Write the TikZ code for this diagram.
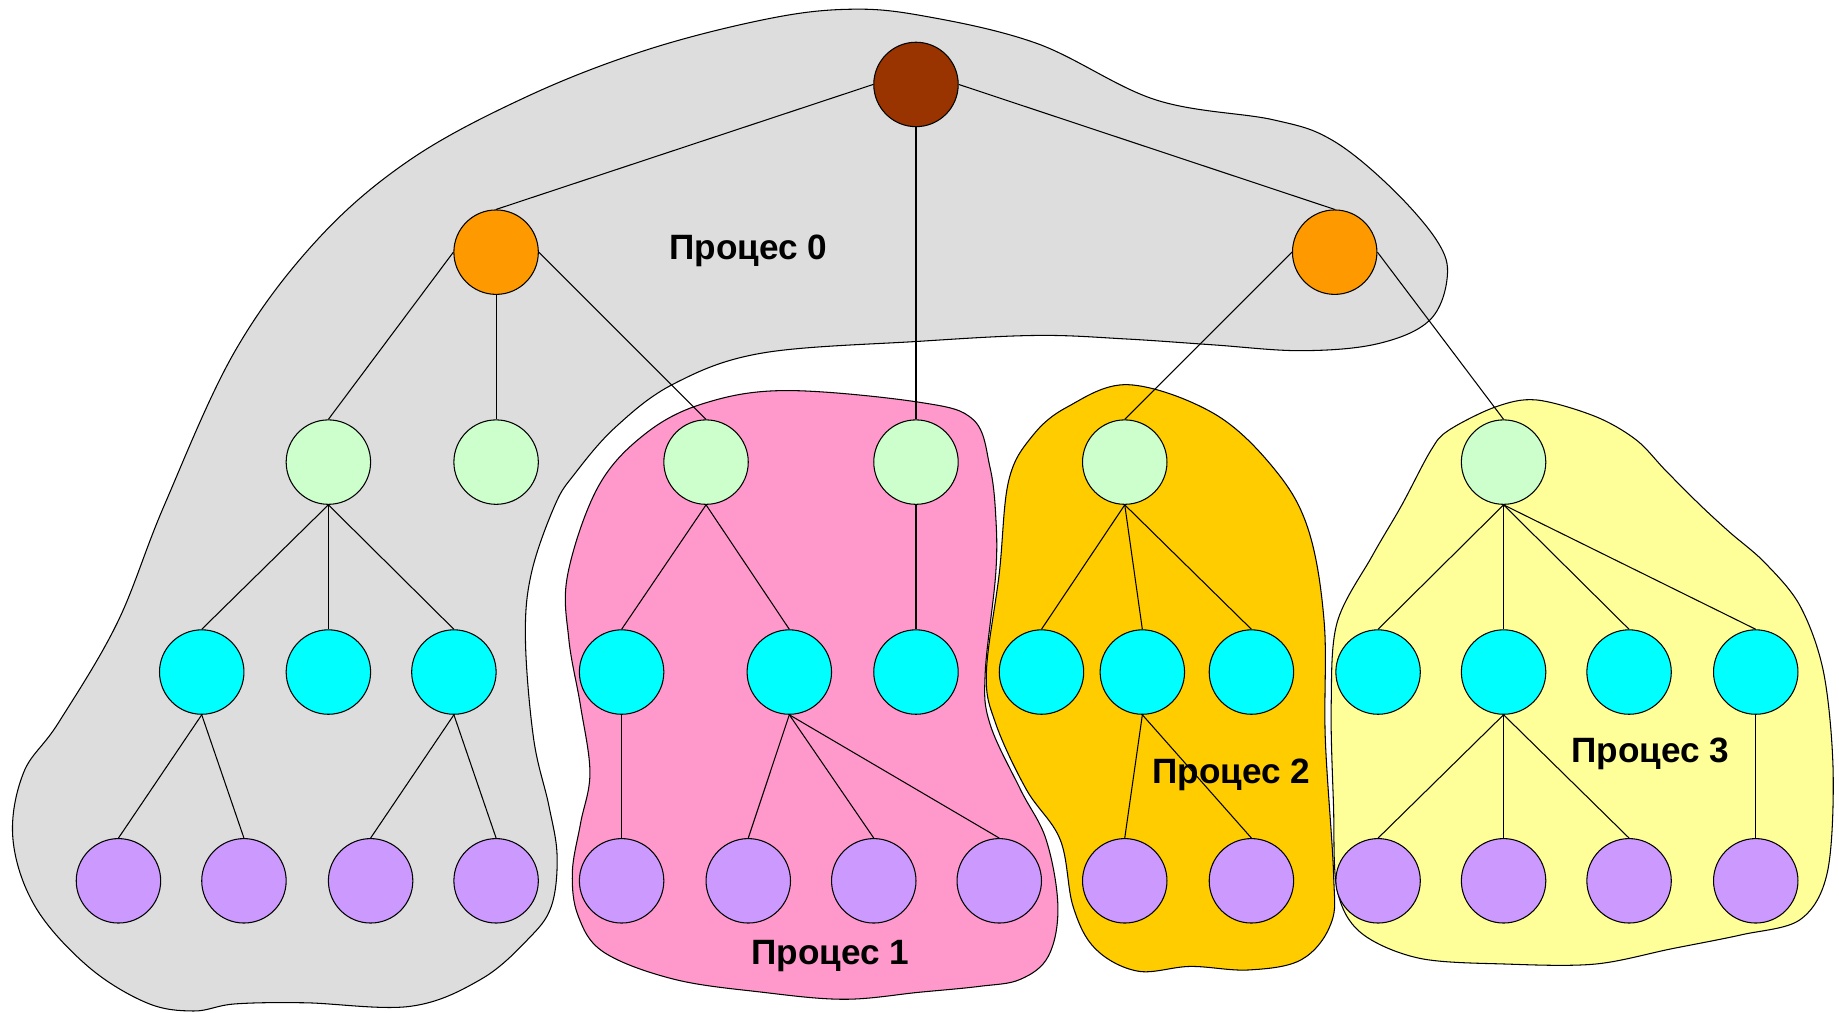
\documentclass[tikz,border=0pt]{standalone}
\usepackage{fontspec}
\setmainfont{Liberation Sans}
\definecolor{zonegray}{HTML}{DDDDDD}
\definecolor{zonepink}{HTML}{FF99CC}
\definecolor{zonegold}{HTML}{FFCC00}
\definecolor{zoneyellow}{HTML}{FFFF99}
\definecolor{rootbrown}{HTML}{993300}
\definecolor{lvlorange}{HTML}{FF9900}
\definecolor{lvlgreen}{HTML}{CCFFCC}
\definecolor{lvlcyan}{HTML}{00FFFF}
\definecolor{lvlviolet}{HTML}{CC99FF}
\begin{document}
\begin{tikzpicture}[x=0.5pt,y=-0.5pt,
  vertex/.style={circle, draw=black, line width=0.45pt, minimum size=36pt, inner sep=0pt},
  blob/.style={draw=black, line width=0.45pt},
  link/.style={draw=black, line width=0.45pt},
  proc/.style={font=\bfseries\fontsize{15}{17}\selectfont}]
\useasboundingbox (0,0) rectangle (1568,863);

% process regions
\path[blob, fill=zonegray] plot[smooth cycle, tension=0.6] coordinates {
  (720,8) (784,13) (884,37) (985,85) (1085,102) (1135,119) (1185,159)
  (1225,205) (1234,236) (1219,273) (1175,293) (1110,299) (1034,294)
  (960,289) (884,286) (784,291) (650,301) (575,327) (525,364) (490,404)
  (473,431) (453,489) (448,545) (455,630) (468,687) (475,730) (470,773)
  (450,801) (410,835) (350,858) (260,855) (200,856) (165,862) (125,855)
  (75,824) (30,773) (11,715) (20,659) (50,616) (100,531) (140,431)
  (200,300) (270,205) (350,136) (450,82) (550,43) (650,17)};
\path[blob, fill=zonepink] plot[smooth cycle, tension=0.6] coordinates {
  (510,415) (550,370) (600,344) (670,333) (784,343) (830,358) (844,398)
  (849,440) (849,489) (840,574) (844,617) (870,673) (892,716) (902,773)
  (894,815) (870,835) (835,841) (784,846) (720,852) (650,846) (575,835)
  (515,812) (493,781) (488,744) (495,702) (503,659) (495,602) (485,545)
  (484,490)};
\path[blob, fill=zonegold] plot[smooth cycle, tension=0.6] coordinates {
  (962,328) (1034,352) (1085,398) (1115,450)
  (1129,530) (1130,630) (1137,744) (1135,787) (1110,818) (1065,827) (1015,824)
  (970,828) (934,809) (915,773) (904,716) (875,673) (849,617) (841,574)
  (852,489) (860,410) (880,372) (910,347)};
\path[blob, fill=zoneyellow] plot[smooth cycle, tension=0.55] coordinates {
  (1275,347) (1310,341) (1360,355) (1395,375) (1420,401) (1450,431)
  (1475,454) (1505,480) (1535,517) (1555,574) (1563,659) (1558,744)
  (1535,784) (1485,797) (1425,809) (1360,822) (1285,822) (1210,817)
  (1160,795) (1140,758) (1137,687) (1135,602) (1140,531) (1170,474)
  (1195,431) (1220,384) (1235,367)};

% tree vertices
\node[vertex, fill=rootbrown] (r) at (781,72) {};
\node[vertex, fill=lvlorange] (o1) at (423,215) {};
\node[vertex, fill=lvlorange] (o2) at (1138,215) {};
\foreach \n/\x in {g1/280, g2/423, g3/602, g4/781, g5/959, g6/1282}
  \node[vertex, fill=lvlgreen] (\n) at (\x,394) {};
\foreach \n/\x in {c1/172, c2/280, c3/387, c4/530, c5/673, c6/781, c7/888,
                   c8/974, c9/1067, c10/1175, c11/1282, c12/1389, c13/1497}
  \node[vertex, fill=lvlcyan] (\n) at (\x,573) {};
\foreach \n/\x in {p1/101, p2/208, p3/316, p4/423, p5/530, p6/638, p7/745,
                   p8/852, p9/959, p10/1067, p11/1175, p12/1282, p13/1389, p14/1497}
  \node[vertex, fill=lvlviolet] (\n) at (\x,751) {};

% tree edges: side children leave from the parent's flank
\foreach \a/\b in {r.west/o1, r.east/o2, o1.west/g1, o1.east/g3,
                   o2.west/g5, o2.east/g6}
  \draw[link] (\a) -- (\b.north);
% the rest leave from the parent's bottom
\foreach \a/\b in {r/g4, o1/g2,
                   g1/c1, g1/c2, g1/c3, g3/c4, g3/c5, g4/c6, g5/c7, g5/c8, g5/c9,
                   g6/c10, g6/c11, g6/c12, g6/c13, c1/p1, c1/p2, c3/p3, c3/p4,
                   c4/p5, c5/p6, c5/p7, c5/p8, c8/p9, c8/p10, c11/p11, c11/p12,
                   c11/p13, c13/p14}
  \draw[link] (\a.south) -- (\b.north);

% region labels
\node[proc] (l0) at (638,214) {Процес 0};
\node[proc] (l1) at (708,815) {Процес 1};
\node[proc] (l2) at (1050,661) {Процес 2};
\node[proc] (l3) at (1407,643) {Процес 3};
\end{tikzpicture}
\end{document}
